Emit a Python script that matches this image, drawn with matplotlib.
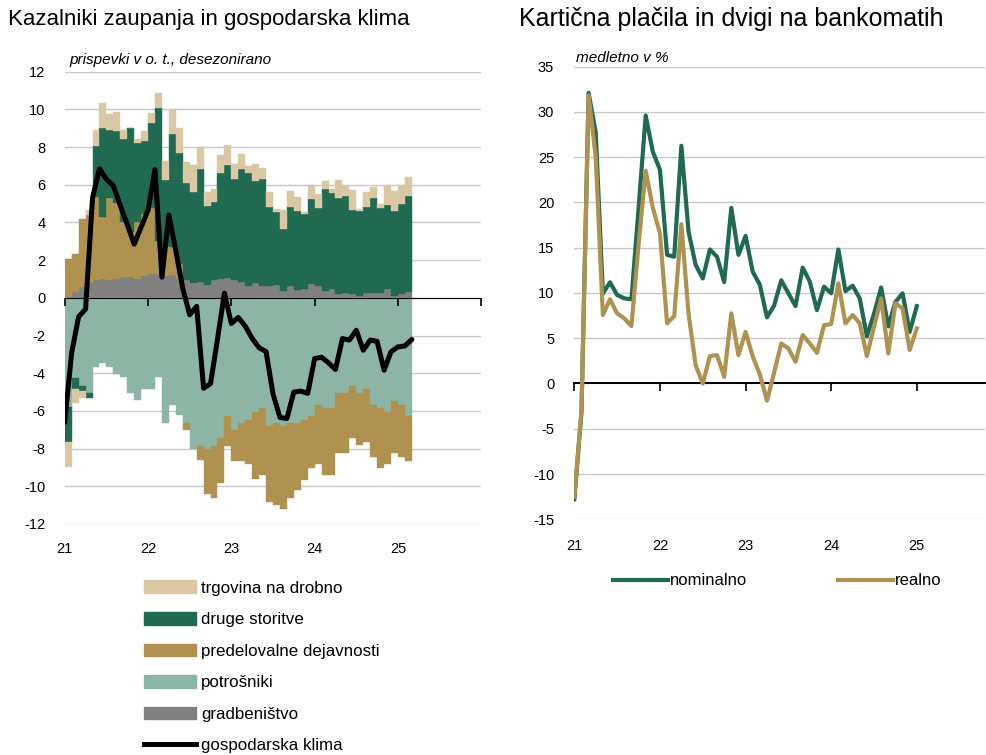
"""Kazalniki zaupanja + kartična plačila — two-panel recreation."""

import matplotlib

matplotlib.use("Agg")
import matplotlib.pyplot as plt
import numpy as np
from matplotlib.lines import Line2D
from matplotlib.patches import Patch

plt.rcParams["font.family"] = ["Liberation Sans", "DejaVu Sans"]
plt.rcParams["axes.unicode_minus"] = False

# ---- left panel: monthly contributions (Jan 2021 ..), percentage points ----
gradbenistvo = [0.05, 0.32, 0.6, 0.8, 0.94, 1.0, 0.94, 1.0, 1.1, 1.1,
                1.0, 1.17, 1.27, 1.24, 1.17, 1.2, 1.0, 0.97, 0.81, 0.85,
                0.67, 0.94, 1.0, 1.03, 0.94, 0.85, 0.64, 0.81, 0.62, 0.62,
                0.67, 0.35, 0.62, 0.4, 0.46, 0.76, 0.62, 0.35, 0.46, 0.2,
                0.28, 0.18, 0.1, 0.28, 0.25, 0.25, 0.46, 0.1, 0.2, 0.32]
potrosniki = [-5.78, -4.28, -4.67, -5.04, -3.66, -3.45, -3.66, -4.05, -4.22, -5.04,
              -5.43, -4.86, -4.86, -4.22, -6.63, -5.66, -6.22, -6.63, -8.04, -7.85,
              -8.04, -7.85, -7.46, -6.28, -7.02, -6.66, -6.49, -6.08, -5.83, -6.8,
              -6.66, -6.8, -6.66, -6.66, -6.49, -6.28, -5.69, -5.83, -5.83, -5.04,
              -5.04, -4.67, -5.04, -4.86, -5.66, -5.83, -6.05, -5.46, -5.66, -6.28]
predelovalne = [2.0, 2.03, 3.6, 3.6, 4.4, 3.3, 4.36, 4.05, 2.9, 2.4,
                3.0, 3.3, 3.5, 1.8, 1.6, 1.5, 0.8, -0.39, 0.0, -0.76,
                -2.36, -2.79, -2.35, -1.57, -1.63, -1.99, -2.33, -3.56, -3.57, -4.02,
                -4.34, -4.43, -3.98, -3.54, -3.18, -2.77, -3.13, -3.57, -3.57, -3.22,
                -3.22, -2.76, -2.78, -2.78, -2.77, -3.22, -2.77, -2.8, -2.77, -2.37]
druge_storitve = [-1.86, -0.58, -0.26, -0.3, 2.71, 4.72, 3.6, 3.79, 4.45, 5.5,
                  4.2, 3.83, 4.53, 7.06, 3.48, 6.0, 5.9, 5.1, 4.82, 5.98,
                  4.19, 4.16, 5.65, 6.01, 5.36, 5.98, 5.96, 5.39, 5.68, 4.18,
                  3.86, 3.33, 4.18, 4.2, 4.01, 4.47, 4.15, 5.4, 5.11, 5.1,
                  5.11, 4.47, 4.5, 4.52, 5.07, 4.52, 4.49, 4.5, 4.8, 5.07]
trgovina = [-1.33, -0.74, -0.41, 0.25, 0.85, 1.34, 0.83, 1.03, 0.45, 0.0,
            0.22, 0.56, 0.53, 0.76, 1.0, 1.3, 1.3, 1.13, 1.42, 1.17,
            0.74, 0.67, 0.92, 1.06, 0.8, 0.83, 0.4, 0.9, 0.6, 0.8,
            0.21, 0.97, 0.86, 0.76, 0.08, 0.77, 0.73, 0.44, 0.23, 0.94,
            0.61, 1.05, 0.14, 0.8, 0.58, 0.2, 1.05, 1.06, 0.98, 1.01]
gospodarska_klima = [-6.6, -2.9, -1.0, -0.6, 5.3, 6.85, 6.3, 5.95, 4.9, 3.9,
                     2.85, 3.75, 4.65, 6.8, 1.1, 4.4, 2.5, 0.5, -0.9, -0.45,
                     -4.8, -4.55, -2.2, 0.25, -1.36, -1.04, -1.5, -2.15, -2.65, -2.85,
                     -5.1, -6.35, -6.4, -5.0, -4.95, -5.07, -3.22, -3.15, -3.45, -3.8,
                     -2.16, -2.24, -1.72, -2.78, -2.24, -2.31, -3.84, -2.86, -2.6, -2.55,
                     -2.21]

# ---- right panel: yoy growth, % (Jan 2021 .. Jan 2025) ----
nominalno = [-12.8, -3.2, 32.1, 27.7, 9.95, 11.17, 9.77, 9.4, 9.3, 19.3,
             29.6, 25.6, 23.6, 14.2, 14.0, 26.25, 16.8, 13.1, 11.6, 14.8,
             14.0, 11.2, 19.4, 14.2, 16.3, 12.35, 10.9, 7.3, 8.6, 11.4,
             9.96, 8.55, 12.8, 11.25, 8.1, 10.7, 9.96, 14.8, 10.2, 10.8,
             9.4, 5.2, 7.7, 10.6, 6.3, 9.0, 9.96, 5.7, 8.55]
realno = [-12.5, -3.0, 31.8, 25.0, 7.56, 9.3, 7.74, 7.19, 6.34, 15.3,
          23.5, 19.4, 16.6, 6.64, 7.45, 17.6, 7.74, 2.03, 0.0, 3.02,
          3.13, 0.74, 7.74, 3.13, 5.7, 3.0, 1.0, -1.9, 1.2, 4.42,
          3.87, 2.4, 5.35, 4.42, 3.39, 6.45, 6.56, 11.06, 6.64, 7.56,
          6.64, 3.02, 6.27, 9.4, 3.32, 8.85, 8.3, 3.69, 6.08]

year_labels = ["21", "22", "23", "24", "25"]

GREY = "#808080"
TEAL = "#8db5a6"
GOLD = "#b09250"
GREEN = "#1f6a50"
TAN = "#d9c8a3"
GRID = "#c8c8c8"


def zero_axis(ax, loc, ticks):
    # x-axis line drawn through zero, ticks pointing down, no labels
    sec = ax.secondary_xaxis(loc)
    sec.set_zorder(3)
    sec.xaxis.set_ticks_position("bottom")
    sec.set_xticks(ticks)
    sec.tick_params(length=6, width=1.2, direction="out",
                    labelbottom=False, labeltop=False)
    sec.spines["bottom"].set_linewidth(1.4)
    return sec


fig = plt.figure(figsize=(9.87, 7.55), dpi=100)

# ------------------------------------------------------------------ left
ax = fig.add_axes([0.0656, 0.306, 0.422, 0.599])
series = [
    ("gradbeništvo", gradbenistvo, GREY),
    ("potrošniki", potrosniki, TEAL),
    ("predelovalne dejavnosti", predelovalne, GOLD),
    ("druge storitve", druge_storitve, GREEN),
    ("trgovina na drobno", trgovina, TAN),
]
n = len(gradbenistvo)
x = np.arange(n) + 0.5
pos_base = np.zeros(n)
neg_base = np.zeros(n)
for name, vals, col in series:
    v = np.asarray(vals)
    base = np.where(v >= 0, pos_base, neg_base)
    ax.bar(x, v, width=1.0, bottom=base, color=col, edgecolor=col,
           linewidth=0.3, zorder=2)
    pos_base += np.clip(v, 0, None)
    neg_base += np.clip(v, None, 0)

ax.plot(np.arange(len(gospodarska_klima)), gospodarska_klima, color="black",
        lw=3.6, solid_joinstyle="round", solid_capstyle="round", zorder=4)

ax.set_xlim(0, 60)
ax.set_ylim(-12, 12)
ax.set_yticks(np.arange(-12, 13, 2))
ax.grid(axis="y", color=GRID, lw=1.0, zorder=0)
ax.set_axisbelow(True)
ax.set_xticks(np.arange(0, 60, 12))
ax.set_xticklabels(year_labels)
ax.tick_params(axis="both", length=0, labelsize=10.5)
ax.tick_params(axis="x", pad=13)
ax.tick_params(axis="y", pad=14)
for s in ax.spines.values():
    s.set_visible(False)
zero_axis(ax, 0.5, np.arange(0, 61, 12))

ax.text(0.012, 1.026, "prispevki v o. t., desezonirano", transform=ax.transAxes,
        fontsize=11, style="italic", va="center")

# ------------------------------------------------------------------ right
ax2 = fig.add_axes([0.5819, 0.3122, 0.4164, 0.5996])
t = 21 + np.arange(len(nominalno)) / 12
ax2.plot(t, nominalno, color=GREEN, lw=3.0, solid_joinstyle="round", zorder=4,
         label="nominalno")
ax2.plot(t, realno, color=GOLD, lw=3.0, solid_joinstyle="round", zorder=4,
         label="realno")
ax2.set_xlim(21, 25.8)
ax2.set_ylim(-15, 35)
ax2.set_yticks(np.arange(-15, 36, 5))
ax2.grid(axis="y", color=GRID, lw=1.0, zorder=0)
ax2.set_axisbelow(True)
ax2.set_xticks(np.arange(21, 26))
ax2.set_xticklabels(year_labels)
ax2.tick_params(axis="both", length=0, labelsize=10.5)
ax2.tick_params(axis="x", pad=14)
ax2.tick_params(axis="y", pad=14.5)
for s in ax2.spines.values():
    s.set_visible(False)
zero_axis(ax2, 0.3, np.arange(21, 26))

ax2.text(0.003, 1.019, "medletno v %", transform=ax2.transAxes,
         fontsize=11, style="italic", va="center")

# ------------------------------------------------------------------ titles
fig.text(8 / 987, 1 - 19 / 755, "Kazalniki zaupanja in gospodarska klima",
         fontsize=16, va="center")
fig.text(519 / 987, 1 - 19 / 755, "Kartična plačila in dvigi na bankomatih",
         fontsize=18, va="center")

# ------------------------------------------------------------------ legends
handles = [Patch(color=col) for _, _, col in series[::-1]]
handles.append(Line2D([], [], color="black", lw=3.6))
labels = [name for name, _, _ in series[::-1]] + ["gospodarska klima"]
fig.legend(handles, labels, loc="upper left",
           bbox_to_anchor=(136 / 987, 1 - 572 / 755), frameon=False,
           fontsize=12.2, borderpad=0, handlelength=3.05, handleheight=0.78,
           handletextpad=0.3, labelspacing=0.96)

fig.legend(*ax2.get_legend_handles_labels(), loc="upper left",
           bbox_to_anchor=(605 / 987, 1 - 565 / 755), frameon=False,
           fontsize=12, borderpad=0, ncol=2, handlelength=3.3,
           handletextpad=0.12, columnspacing=5.4)

fig.savefig("out.png", dpi=100)
plt.close(fig)
